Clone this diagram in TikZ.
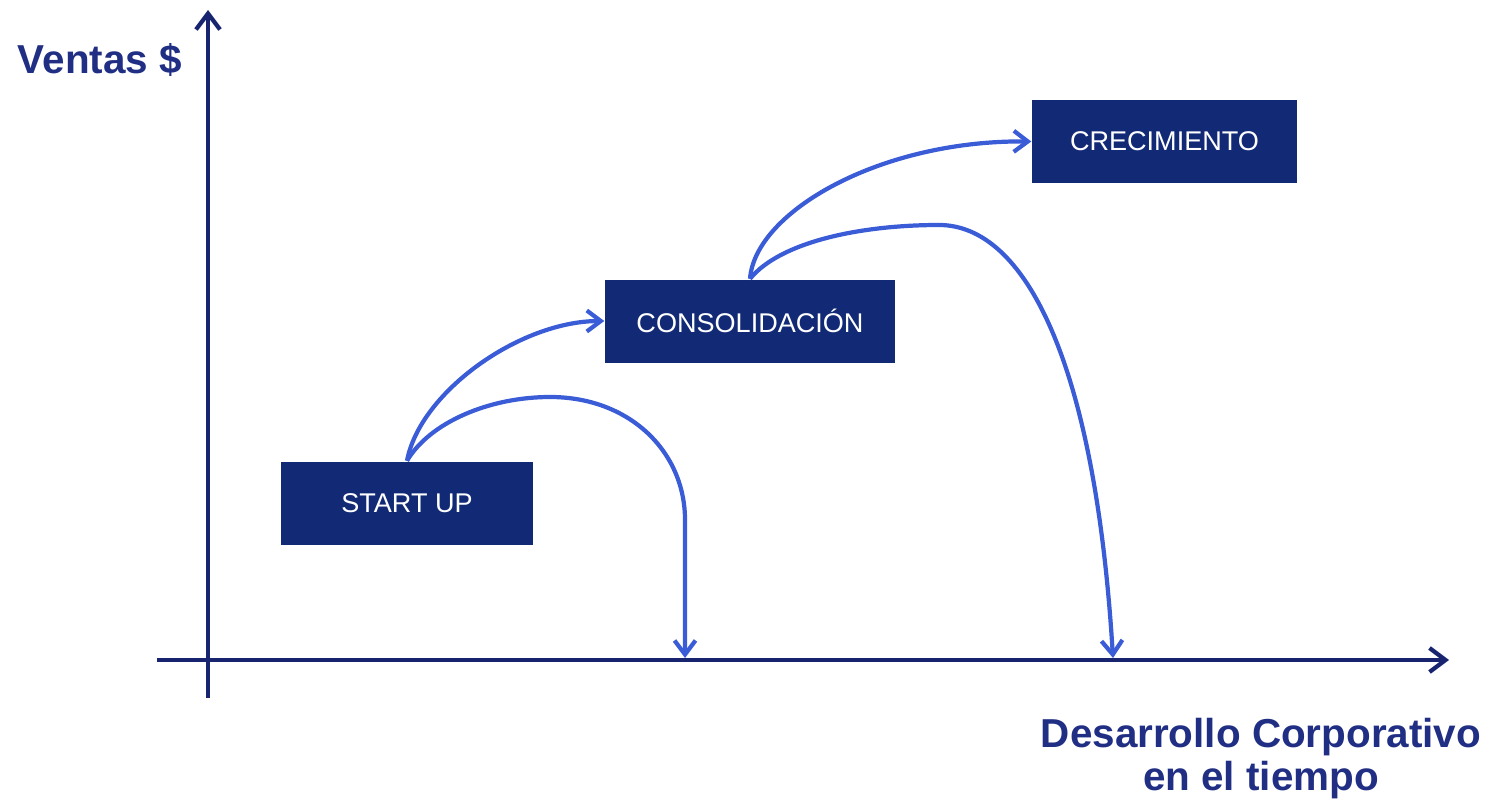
\documentclass[tikz,border=0pt]{standalone}
\usepackage{fontspec}
\setmainfont{Liberation Sans}
\usetikzlibrary{arrows.meta}
\definecolor{navy}{RGB}{24,36,112}
\definecolor{boxnavy}{RGB}{18,42,118}
\definecolor{arcblue}{RGB}{58,92,214}
\definecolor{labelnavy}{RGB}{32,46,132}
\tikzset{
  stagebox/.style={fill=boxnavy, text=white, inner sep=0pt, minimum height=0.83cm,
    font=\fontsize{7.7}{9}\selectfont},
  axisline/.style={navy, line width=1.2pt, -{Straight Barb[length=1.6mm,width=2.4mm]}},
  arcline/.style={arcblue, line width=1.2pt, -{Straight Barb[length=1.4mm,width=2.1mm]}},
  axislabel/.style={labelnavy, font=\fontsize{11.5}{12.2}\selectfont\bfseries, inner sep=0pt}
}
\begin{document}
\begin{tikzpicture}
\useasboundingbox (0,0) rectangle (14.93,8.02);

\draw[axisline] (2.08,1.04) -- (2.08,7.92);
\draw[axisline] (1.57,1.42) -- (14.49,1.42);
\node[axislabel] (ventas) at (1.00,7.42) {Ventas \$};
\node[axislabel, align=center, anchor=north] (desarrollo) at (12.61,0.84)
  {Desarrollo Corporativo\\en el tiempo};

\node[stagebox, minimum width=2.52cm] (startup) at (4.07,2.99) {START UP};
\node[stagebox, minimum width=2.90cm] (consol) at (7.50,4.81) {CONSOLIDACIÓN};
\node[stagebox, minimum width=2.65cm] (crec) at (11.645,6.605) {CRECIMIENTO};

\coordinate (fin1) at (6.85,1.44);
\coordinate (fin2) at (11.13,1.44);

\draw[arcline] (startup.north) .. controls (4.2,4.1) and (5.2,4.81) .. (consol.west);
\draw[arcline] (startup.north) .. controls (4.3,3.8) and (4.9,4.05) .. (5.5,4.05)
  .. controls (6.3,4.05) and (6.85,3.5) .. (6.85,2.82) -- (fin1);

\draw[arcline] (consol.north) .. controls (7.55,5.9) and (8.8,6.62) .. (crec.west);
\draw[arcline] (consol.north) .. controls (7.8,5.6) and (8.6,5.77) .. (9.39,5.77)
  .. controls (10.25,5.77) and (10.95,4.4) .. (fin2);
\end{tikzpicture}
\end{document}
